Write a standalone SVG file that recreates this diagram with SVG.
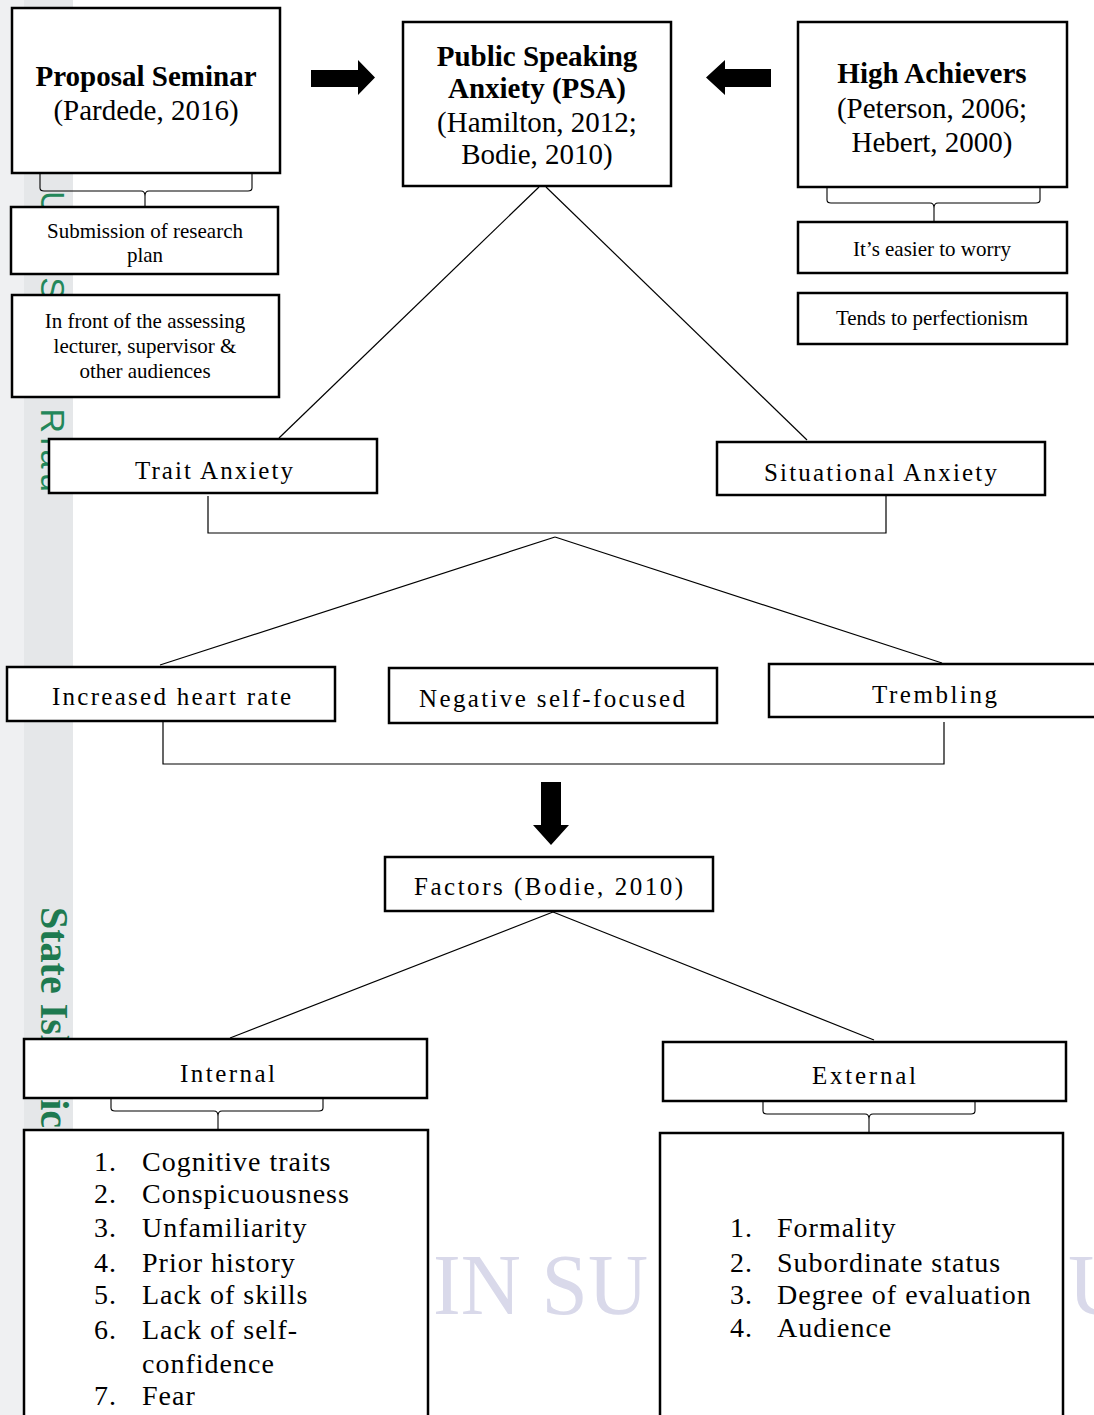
<svg xmlns="http://www.w3.org/2000/svg" width="1094" height="1415" viewBox="0 0 1094 1415">
  <style>
    .box { fill: #ffffff; stroke: #000000; stroke-width: 2.5; }
    .ln { fill: none; stroke: #000000; stroke-width: 1.2; }
    .br { fill: none; stroke: #000000; stroke-width: 1.1; }
    .arr { fill: #000000; stroke: none; }
    text { font-family: "Liberation Serif", "Times New Roman", serif; fill: #000000; }
    .big { font-size: 29px; text-anchor: middle; }
    .bold { font-weight: bold; }
    .sm { font-size: 21px; text-anchor: middle; }
    .mid { font-size: 25px; text-anchor: middle; }
    .li { font-size: 28px; letter-spacing: 1px; }
    .wm { font-size: 86px; fill: #d9d9ea; }
  </style>
  <rect x="0" y="0" width="1094" height="1415" fill="#ffffff"/>
  <g id="page-margin">
    <rect x="0" y="0" width="24" height="1415" fill="#eff0f2"/>
    <rect x="24" y="0" width="49" height="1415" fill="#e5e7e9"/>
    <text transform="translate(41,191) rotate(90)" style="font-family:'Liberation Sans',Arial,sans-serif;font-size:34px;fill:#23875a" textLength="301" lengthAdjust="spacing">UIN Suska Riau</text>
    <text transform="translate(41,907) rotate(90)" style="font-family:'Liberation Serif','Times New Roman',serif;font-size:40px;font-weight:bold;fill:#1e7a50">State Islamic</text>
  </g>
  <g id="watermark">
    <text class="wm" x="433" y="1314" textLength="215" lengthAdjust="spacingAndGlyphs">IN SU</text>
    <text class="wm" x="1068" y="1314">U</text>
  </g>

  <g id="connectors">
    <path class="ln" d="M539,187 L279,438"/>
    <path class="ln" d="M546,187 L807,440"/>
    <path class="ln" d="M208,496 L208,533 L886,533 L886,496"/>
    <path class="ln" d="M555,537 L160,665"/>
    <path class="ln" d="M555,537 L942,663"/>
    <path class="ln" d="M163,722 L163,764 L944,764 L944,722"/>
    <path class="ln" d="M553,912 L230,1038"/>
    <path class="ln" d="M553,912 L874,1040"/>
    <path class="br" d="M40,173 L40,188 Q40,191 44,191 L141,191 Q145,191 145,196 L145,207 M252,173 L252,188 Q252,191 248,191 L149,191 Q145,191 145,196"/>
    <path class="br" d="M827,187 L827,200 Q827,203 831,203 L930,203 Q934,203 934,208 L934,222 M1040,187 L1040,200 Q1040,203 1036,203 L938,203 Q934,203 934,208"/>
    <path class="br" d="M111,1098 L111,1108 Q111,1111 115,1111 L214,1111 Q218,1111 218,1116 L218,1130 M323,1098 L323,1108 Q323,1111 319,1111 L222,1111 Q218,1111 218,1116"/>
    <path class="br" d="M763,1101 L763,1111 Q763,1114 767,1114 L865,1114 Q869,1114 869,1119 L869,1133 M975,1101 L975,1111 Q975,1114 971,1114 L873,1114 Q869,1114 869,1119"/>
    <polygon class="arr" points="311,70 358,70 358,60 375,77.5 358,95 358,87 311,87"/>
    <polygon class="arr" points="771,69 725,69 725,60 706,77.5 725,95 725,87 771,87"/>
    <polygon class="arr" points="541,782 561,782 561,825 569,825 551,845 533,825 541,825"/>
  </g>

  <g id="proposal-seminar">
    <rect class="box" x="12" y="8" width="268" height="165"/>
    <text class="big bold" x="146" y="86">Proposal Seminar</text>
    <text class="big" x="146" y="120">(Pardede, 2016)</text>
  </g>
  <g id="psa">
    <rect class="box" x="403" y="22" width="268" height="164"/>
    <text class="big bold" x="537" y="66">Public Speaking</text>
    <text class="big bold" x="537" y="98">Anxiety (PSA)</text>
    <text class="big" x="537" y="132">(Hamilton, 2012;</text>
    <text class="big" x="537" y="164">Bodie, 2010)</text>
  </g>
  <g id="high-achievers">
    <rect class="box" x="798" y="22" width="269" height="165"/>
    <text class="big bold" x="932" y="83">High Achievers</text>
    <text class="big" x="932" y="118">(Peterson, 2006;</text>
    <text class="big" x="932" y="152">Hebert, 2000)</text>
  </g>
  <g id="submission">
    <rect class="box" x="11" y="207" width="267" height="67"/>
    <text class="sm" x="145" y="238">Submission of research</text>
    <text class="sm" x="145" y="262">plan</text>
  </g>
  <g id="in-front">
    <rect class="box" x="12" y="295" width="267" height="102"/>
    <text class="sm" x="145" y="328">In front of the assessing</text>
    <text class="sm" x="145" y="353">lecturer, supervisor &amp;</text>
    <text class="sm" x="145" y="378">other audiences</text>
  </g>
  <g id="easier-to-worry">
    <rect class="box" x="798" y="222" width="269" height="51"/>
    <text class="sm" x="932" y="256">It’s easier to worry</text>
  </g>
  <g id="perfectionism">
    <rect class="box" x="798" y="293" width="269" height="51"/>
    <text class="sm" x="932" y="325">Tends to perfectionism</text>
  </g>
  <g id="trait-anxiety">
    <rect class="box" x="49" y="439" width="328" height="54"/>
    <text class="mid" x="214" y="479" textLength="158" lengthAdjust="spacing">Trait Anxiety</text>
  </g>
  <g id="situational-anxiety">
    <rect class="box" x="717" y="442" width="328" height="53"/>
    <text class="mid" x="880.5" y="481" textLength="233" lengthAdjust="spacing">Situational Anxiety</text>
  </g>
  <g id="heart-rate">
    <rect class="box" x="7" y="667" width="328" height="54"/>
    <text class="mid" x="171.5" y="705" textLength="239" lengthAdjust="spacing">Increased heart rate</text>
  </g>
  <g id="negative-self-focused">
    <rect class="box" x="389" y="668" width="328" height="55"/>
    <text class="mid" x="552" y="707" textLength="266" lengthAdjust="spacing">Negative self-focused</text>
  </g>
  <g id="trembling">
    <rect class="box" x="769" y="664" width="332" height="53"/>
    <text class="mid" x="934.5" y="703" textLength="125" lengthAdjust="spacing">Trembling</text>
  </g>
  <g id="factors">
    <rect class="box" x="385" y="857" width="328" height="54"/>
    <text class="mid" x="548.5" y="895" textLength="269" lengthAdjust="spacing">Factors (Bodie, 2010)</text>
  </g>
  <g id="internal">
    <rect class="box" x="24" y="1039" width="403" height="59"/>
    <text class="mid" x="227.5" y="1082" textLength="95" lengthAdjust="spacing">Internal</text>
  </g>
  <g id="external">
    <rect class="box" x="663" y="1042" width="403" height="59"/>
    <text class="mid" x="864" y="1084" textLength="104" lengthAdjust="spacing">External</text>
  </g>
  <g id="internal-list">
    <rect class="box" x="24" y="1130" width="404" height="300"/>
    <text class="li" x="94" y="1171">1.</text><text class="li" x="142" y="1171">Cognitive traits</text>
    <text class="li" x="94" y="1203">2.</text><text class="li" x="142" y="1203">Conspicuousness</text>
    <text class="li" x="94" y="1237">3.</text><text class="li" x="142" y="1237">Unfamiliarity</text>
    <text class="li" x="94" y="1272">4.</text><text class="li" x="142" y="1272">Prior history</text>
    <text class="li" x="94" y="1304">5.</text><text class="li" x="142" y="1304">Lack of skills</text>
    <text class="li" x="94" y="1339">6.</text><text class="li" x="142" y="1339">Lack of self-</text>
    <text class="li" x="142" y="1373">confidence</text>
    <text class="li" x="94" y="1405">7.</text><text class="li" x="142" y="1405">Fear</text>
  </g>
  <g id="external-list">
    <rect class="box" x="660" y="1133" width="403" height="300"/>
    <text class="li" x="730" y="1237">1.</text><text class="li" x="777" y="1237">Formality</text>
    <text class="li" x="730" y="1272">2.</text><text class="li" x="777" y="1272">Subordinate status</text>
    <text class="li" x="730" y="1304">3.</text><text class="li" x="777" y="1304">Degree of evaluation</text>
    <text class="li" x="730" y="1337">4.</text><text class="li" x="777" y="1337">Audience</text>
  </g>
</svg>
